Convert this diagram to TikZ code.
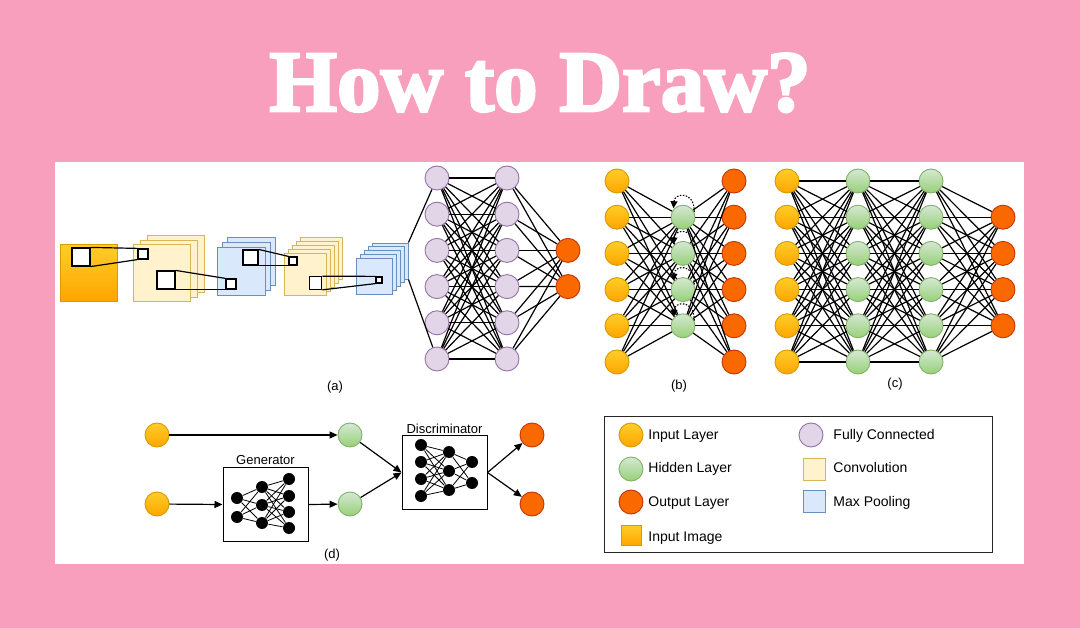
\documentclass[tikz,border=0pt]{standalone}
\usepackage{fontspec}
\setmainfont{Liberation Sans}
\newfontfamily\titlefont{Liberation Serif}[BoldFeatures={FakeBold=3}]
\usetikzlibrary{arrows.meta}

\definecolor{bgpink}{HTML}{F79FBC}
\definecolor{intop}{HTML}{FFCD28}
\definecolor{inbot}{HTML}{FFA500}
\definecolor{inedge}{HTML}{D79B00}
\definecolor{hidtop}{HTML}{D5E8D4}
\definecolor{hidbot}{HTML}{97D077}
\definecolor{hidedge}{HTML}{82B366}
\definecolor{outfill}{HTML}{FA6800}
\definecolor{outedge}{HTML}{C73500}
\definecolor{fcfill}{HTML}{E1D5E7}
\definecolor{fcedge}{HTML}{9673A6}
\definecolor{convfill}{HTML}{FFF2CC}
\definecolor{convedge}{HTML}{D6B656}
\definecolor{poolfill}{HTML}{DAE8FC}
\definecolor{pooledge}{HTML}{6C8EBF}

\begin{document}
\begin{tikzpicture}[x=1pt, y=-1pt, line width=0.9pt,
    neuron/.style={circle, draw, minimum size=24pt, inner sep=0pt},
    inputn/.style={neuron, draw=inedge, top color=intop, bottom color=inbot},
    hiddenn/.style={neuron, draw=hidedge, top color=hidtop, bottom color=hidbot},
    outputn/.style={neuron, draw=outedge, fill=outfill},
    fcn/.style={neuron, draw=fcedge, fill=fcfill},
    imgmap/.style={rectangle, draw=inedge, top color=intop, bottom color=inbot, inner sep=0pt},
    convmap/.style={rectangle, draw=convedge, fill=convfill, inner sep=0pt},
    poolmap/.style={rectangle, draw=pooledge, fill=poolfill, inner sep=0pt},
    patch/.style={rectangle, draw=black, fill=white, line width=1.2pt, inner sep=0pt},
    unit/.style={circle, fill=black, minimum size=12pt, inner sep=0pt},
    link/.style={black, line width=1.2pt},
    thin link/.style={black, line width=0.8pt},
    flow/.style={black, line width=1.2pt, -{Triangle[length=8pt,width=7pt]}},
    loopback/.style={black, dash pattern=on 1.5pt off 1.5pt, line width=1.1pt, -{Triangle[length=7pt,width=7pt]}, shorten >=1pt},
    netbox/.style={rectangle, draw=black, line width=1pt, inner sep=0pt, minimum width=85pt, minimum height=73pt},
    caption/.style={font=\fontsize{13}{15}\selectfont, anchor=base, inner sep=0pt},
    legtext/.style={font=\fontsize{14}{16}\selectfont, anchor=base west, inner sep=0pt}]

    % Background and white panel
    \fill[bgpink] (0,0) rectangle (1080,628);
    \useasboundingbox (0,0) rectangle (1080,628);
    \fill[white] (55,162) rectangle (1024,564);

    \node[text=white, anchor=base, inner sep=0pt, font=\titlefont\bfseries\fontsize{87}{90}\selectfont] (title) at (540,111) {How to Draw?};

    % (a) Convolutional network
    \node[imgmap, minimum size=57] (img) at (88.5,273) {};
    \foreach \k in {2,1,0} \node[convmap, minimum size=57] (conva-\k) at (161.5+7*\k, 273-4.5*\k) {};
    \foreach \k in {2,1,0} \node[poolmap, minimum size=48] (poola-\k) at (241+5*\k, 271-5*\k) {};
    \foreach \k in {4,3,2,1,0} \node[convmap, minimum size=42] (convb-\k) at (305+4*\k, 274-4*\k) {};
    \foreach \k in {4,3,2,1,0} \node[poolmap, minimum size=36] (poolb-\k) at (374+4*\k, 276-3.75*\k) {};

    \node[patch, minimum size=18] (s0) at (81,257) {};
    \node[patch, minimum size=10] (t1) at (143,254) {};
    \node[patch, minimum size=18] (s1) at (166,280) {};
    \node[patch, minimum size=10] (t2) at (231,284) {};
    \node[patch, minimum size=15] (s2) at (250.5,257.5) {};
    \node[patch, minimum size=8] (t3) at (293,261) {};
    \node[patch, minimum size=12.5] (s3) at (315.5,283) {};
    \node[patch, minimum size=6] (t4) at (379,280) {};

    \foreach \s/\t in {s0/t1, s1/t2, s2/t3, s3/t4} {
        \draw[link] (\s.north east) -- (\t.north west);
        \draw[link] (\s.south east) -- (\t.south west);
    }

    \foreach \i in {1,...,6} {
        \node[fcn] (fca-\i) at (437, {178+36.2*(\i-1)}) {};
        \node[fcn] (fcb-\i) at (507, {178+36.2*(\i-1)}) {};
    }
    \node[outputn] (outa-1) at (568,250.4) {};
    \node[outputn] (outa-2) at (568,286.6) {};

    \draw[link] (poolb-4.north east) -- (fca-1);
    \draw[link] (poolb-4.south east) -- (fca-6);
    \foreach \i in {1,...,6} {
        \foreach \j in {1,...,6} \draw[link] (fca-\i) -- (fcb-\j);
        \foreach \j in {1,2} \draw[link] (fcb-\i) -- (outa-\j);
    }
    \node[caption] (capa) at (335,391) {(a)};

    % (b) Recurrent network
    \foreach \i in {1,...,6} {
        \node[inputn] (inb-\i) at (617, {181+36.2*(\i-1)}) {};
        \node[outputn] (outb-\i) at (734, {181+36.2*(\i-1)}) {};
    }
    \foreach \i in {2,...,5} \node[hiddenn] (hidb-\i) at (683, {181+36.2*(\i-1)}) {};

    \foreach \i in {1,...,6} \foreach \j in {2,...,5} {
        \draw[link] (inb-\i) -- (hidb-\j);
        \draw[link] (hidb-\j) -- (outb-\i);
    }
    \foreach \i in {2,...,5} \draw[loopback] (hidb-\i.25) .. controls +(0,-22) and +(1,-16) .. (hidb-\i.140);
    \node[caption] (capb) at (679,390) {(b)};

    % (c) Deep feed-forward network
    \foreach \i in {1,...,6} {
        \node[inputn] (inc-\i) at (787, {181+36.2*(\i-1)}) {};
        \node[hiddenn] (hca-\i) at (858, {181+36.2*(\i-1)}) {};
        \node[hiddenn] (hcb-\i) at (931, {181+36.2*(\i-1)}) {};
    }
    \foreach \i in {2,...,5} \node[outputn] (outc-\i) at (1003, {181+36.2*(\i-1)}) {};

    \foreach \i in {1,...,6} {
        \foreach \j in {1,...,6} {
            \draw[link] (inc-\i) -- (hca-\j);
            \draw[link] (hca-\i) -- (hcb-\j);
        }
        \foreach \j in {2,...,5} \draw[link] (hcb-\i) -- (outc-\j);
    }
    \node[caption] (capc) at (895,388) {(c)};

    % (d) Generative adversarial network
    \node[inputn] (din-1) at (157,435) {};
    \node[inputn] (din-2) at (157,504) {};
    \node[hiddenn] (dh-1) at (350,435) {};
    \node[hiddenn] (dh-2) at (350,504) {};
    \node[outputn] (dout-1) at (532,435) {};
    \node[outputn] (dout-2) at (532,504) {};

    \node[netbox] (gen) at (265.5,504.5) {};
    \node[caption] (gentitle) at ([yshift=3pt]gen.north) {Generator};
    \foreach \y [count=\n] in {498,517} \node[unit] (g1-\n) at (237,\y) {};
    \foreach \y [count=\n] in {487,505,523} \node[unit] (g2-\n) at (262,\y) {};
    \foreach \y [count=\n] in {479,496,512,528} \node[unit] (g3-\n) at (289,\y) {};
    \foreach \a in {1,2} \foreach \b in {1,2,3} \draw[thin link] (g1-\a) -- (g2-\b);
    \foreach \a in {1,2,3} \foreach \b in {1,...,4} \draw[thin link] (g2-\a) -- (g3-\b);

    \node[netbox] (disc) at (444.5,472.5) {};
    \node[caption] (disctitle) at ([yshift=2pt]disc.north) {Discriminator};
    \foreach \y [count=\n] in {445,462,479,496} \node[unit] (d1-\n) at (421,\y) {};
    \foreach \y [count=\n] in {452,471,490} \node[unit] (d2-\n) at (449,\y) {};
    \foreach \y [count=\n] in {462,483} \node[unit] (d3-\n) at (472,\y) {};
    \foreach \a in {1,...,4} \foreach \b in {1,2,3} \draw[thin link] (d1-\a) -- (d2-\b);
    \foreach \a in {1,2,3} \foreach \b in {1,2} \draw[thin link] (d2-\a) -- (d3-\b);

    \draw[flow] (din-1) -- (dh-1);
    \draw[flow] (din-2) -- (gen.west);
    \draw[flow] (gen.east) -- (dh-2);
    \draw[flow] (dh-1) -- (disc.west);
    \draw[flow] (dh-2) -- (disc.west);
    \draw[flow] (disc.east) -- (dout-1);
    \draw[flow] (disc.east) -- (dout-2);
    \node[caption] (capd) at (332,558) {(d)};

    % Legend
    \draw[black!85, line width=1pt] (604,417) rectangle (992,552);
    \node[inputn] (keyin) at (631,435) {};
    \node[legtext] (keyintxt) at (648,439) {Input Layer};
    \node[hiddenn] (keyhid) at (631,469) {};
    \node[legtext] (keyhidtxt) at (648,473) {Hidden Layer};
    \node[outputn] (keyout) at (631,502) {};
    \node[legtext] (keyouttxt) at (648,507) {Output Layer};
    \node[imgmap, minimum size=20] (keyimg) at (631,535) {};
    \node[legtext] (keyimgtxt) at (648,541) {Input Image};
    \node[fcn] (keyfc) at (811,435) {};
    \node[legtext] (keyfctxt) at (833,439) {Fully Connected};
    \node[convmap, minimum size=22] (keyconv) at (814,469) {};
    \node[legtext] (keyconvtxt) at (833,473) {Convolution};
    \node[poolmap, minimum size=22] (keypool) at (814,501) {};
    \node[legtext] (keypooltxt) at (833,507) {Max Pooling};
\end{tikzpicture}
\end{document}
